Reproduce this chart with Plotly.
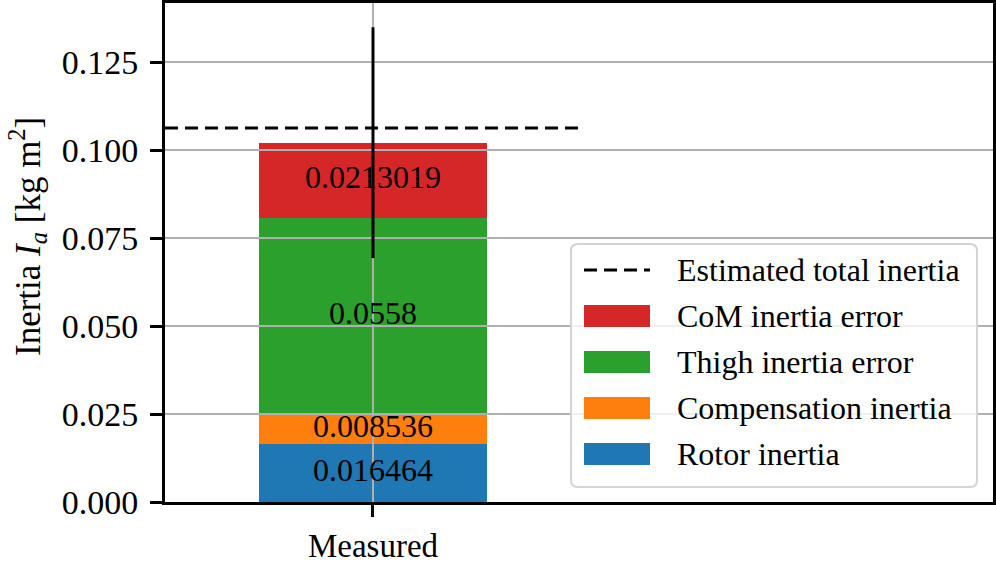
import plotly.graph_objects as go

# ---- data ----
category = ["Measured"]
category_pos = [0]
components = ["Rotor inertia", "Compensation inertia", "Thigh inertia error", "CoM inertia error"]
values = [0.016464, 0.008536, 0.0558, 0.0213019]
value_labels = ["0.016464", "0.008536", "0.0558", "0.0213019"]
colors = ["#1f77b4", "#ff7f0e", "#2ca02c", "#d62728"]
estimated_total = 0.10625
estimated_line_x = [-0.733, 0.73]
error_half = 0.0328
y_ticks = [0.0, 0.025, 0.05, 0.075, 0.1, 0.125]
y_tick_text = ["0.000", "0.025", "0.050", "0.075", "0.100", "0.125"]
legend_names = ["Estimated total inertia"] + components[::-1]

W, H = 996, 563
ML, MR, MT, MB = 165, 3, 3, 61
X_RANGE = [-0.733, 2.185]
Y_RANGE = [0, 0.1418]
FONT = "Liberation Serif"
FS = 32
TFS = 34
GRID = "#b0b0b0"

PW, PH = W - ML - MR, H - MT - MB


def px(xp):
    return (xp - ML) / PW


def py(yp):
    return (H - MB - yp) / PH


fig = go.Figure()

# stacked bars
for name, v, c in zip(components, values, colors):
    fig.add_trace(go.Bar(x=category_pos, y=[v], width=0.8, name=name,
                         marker=dict(color=c, line=dict(width=0)),
                         showlegend=False, hoverinfo="skip"))

# grid lines drawn above the bars (as in the reference)
gx, gy = [], []
for t in y_ticks[1:]:
    gx += [X_RANGE[0], X_RANGE[1], None]
    gy += [t, t, None]
for p in category_pos:
    gx += [p, p, None]
    gy += [Y_RANGE[0], Y_RANGE[1], None]
fig.add_trace(go.Scatter(x=gx, y=gy, mode="lines", line=dict(color=GRID, width=2),
                         showlegend=False, hoverinfo="skip"))

# segment labels at segment centres
centres = []
base = 0.0
for v in values:
    centres.append(base + v / 2)
    base += v
total = base
fig.add_trace(go.Scatter(x=category_pos * len(values), y=centres, mode="text",
                         text=value_labels, textposition="middle center",
                         textfont=dict(family=FONT, size=FS, color="black"),
                         showlegend=False, hoverinfo="skip"))

# estimated total inertia (dashed)
fig.add_trace(go.Scatter(x=estimated_line_x, y=[estimated_total] * 2, mode="lines",
                         line=dict(color="black", width=3, dash="13px,7px"),
                         showlegend=False, hoverinfo="skip"))

# error bar at top of stack
fig.add_trace(go.Scatter(x=category_pos, y=[total], mode="markers",
                         marker=dict(size=1, color="rgba(0,0,0,0)"),
                         error_y=dict(type="data", array=[error_half], color="black",
                                      thickness=3, width=0),
                         showlegend=False, hoverinfo="skip"))

# ---- legend (matplotlib-like, drawn in paper space) ----
bx0, bx1, by0, by1, r = 571, 977, 244, 487, 7
rx, ry = r / PW, r / PH
X0, X1, Y0, Y1 = px(bx0), px(bx1), py(by1), py(by0)
box_path = (f"M{X0+rx},{Y0} L{X1-rx},{Y0} Q{X1},{Y0} {X1},{Y0+ry} "
            f"L{X1},{Y1-ry} Q{X1},{Y1} {X1-rx},{Y1} L{X0+rx},{Y1} "
            f"Q{X0},{Y1} {X0},{Y1-ry} L{X0},{Y0+ry} Q{X0},{Y0} {X0+rx},{Y0} Z")
shapes = [dict(type="path", xref="paper", yref="paper", path=box_path,
               fillcolor="rgba(255,255,255,0.8)", line=dict(color="#d4d4d4", width=2),
               layer="above")]
annotations = []
row_y = [270, 316, 362, 408, 454]
sym_x0, sym_x1, txt_x = 584, 650, 675
legend_colors = [None] + colors[::-1]
for i, (nm, col) in enumerate(zip(legend_names, legend_colors)):
    yc = row_y[i]
    if col is None:
        shapes.append(dict(type="line", xref="paper", yref="paper",
                           x0=px(sym_x0), x1=px(sym_x1), y0=py(yc), y1=py(yc),
                           line=dict(color="black", width=3, dash="13px,7px"),
                           layer="above"))
    else:
        shapes.append(dict(type="rect", xref="paper", yref="paper",
                           x0=px(sym_x0), x1=px(sym_x1), y0=py(yc + 11), y1=py(yc - 11),
                           fillcolor=col, line=dict(width=0), layer="above"))
    annotations.append(dict(xref="paper", yref="paper", x=px(txt_x), y=py(yc),
                            xanchor="left", yanchor="middle", showarrow=False,
                            text=nm, font=dict(family=FONT, size=FS, color="black")))

# y-axis title
annotations.append(dict(xref="paper", yref="paper", x=px(27), y=py(237),
                        xanchor="center", yanchor="middle", showarrow=False,
                        textangle=-90,
                        text="Inertia <i>I<sub>a</sub></i> [kg m<sup>2</sup>]",
                        font=dict(family=FONT, size=35, color="black")))

axis_common = dict(showline=True, linecolor="black", linewidth=3, mirror=True,
                   ticks="outside", ticklen=12, tickwidth=3, tickcolor="black",
                   showgrid=False, zeroline=False, automargin=False)

fig.update_layout(
    width=W, height=H,
    margin=dict(l=ML, r=MR, t=MT, b=MB),
    paper_bgcolor="white", plot_bgcolor="white",
    barmode="stack",
    font=dict(family=FONT, size=FS, color="black"),
    xaxis=dict(range=X_RANGE, tickvals=category_pos, ticktext=category,
               tickfont=dict(family=FONT, size=33, color="black"), **axis_common),
    yaxis=dict(range=Y_RANGE, tickvals=y_ticks, ticktext=y_tick_text,
               ticklabelstandoff=5,
               tickfont=dict(family=FONT, size=TFS, color="black"), **axis_common),
    shapes=shapes,
    annotations=annotations,
    showlegend=False,
)

fig.write_html("out.html", config={"displayModeBar": False},
               post_script="document.body.style.margin='0';")
